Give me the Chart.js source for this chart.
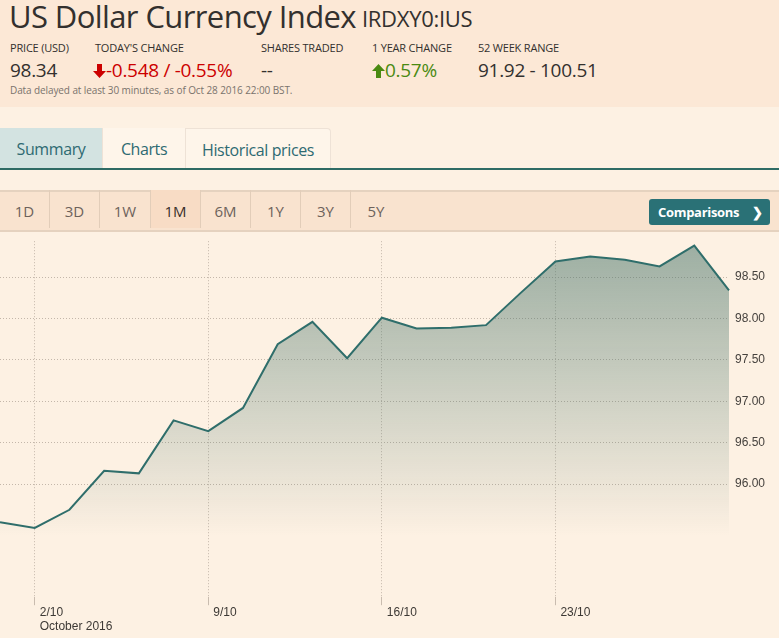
<!DOCTYPE html>
<html>
<head>
<meta charset="utf-8">
<script src="https://cdn.jsdelivr.net/npm/chart.js@4.4.0/dist/chart.umd.min.js"></script>
<style>
  body { margin: 0; width: 779px; height: 638px; overflow: hidden; background: #fdf1e3; color: #33302e; font-family: "Open Sans", sans-serif; position: relative; }
  .abs { position: absolute; white-space: nowrap; }
  #header { left: 0; top: 0; width: 779px; height: 107px; background: #fce8d6; }
  #title { left: 9px; top: -5px; font-size: 31px; letter-spacing: -0.6px; }
  #symbol { left: 362px; top: 3px; font-size: 22px; letter-spacing: -0.3px; }
  .lbl { top: 40px; font-size: 11px; letter-spacing: -0.2px; }
  .val { top: 57px; font-size: 19px; letter-spacing: -0.3px; }
  .down { color: #cc0000; }
  .up { color: #4a8a12; }
  #delay { left: 10px; top: 83px; font-size: 10px; color: #7a736d; letter-spacing: -0.1px; }
  .tab { top: 128px; height: 41px; line-height: 43px; font-size: 16px; color: #2e6a72; text-align: center; letter-spacing: -0.4px; }
  #tabline { left: 0; top: 168px; width: 779px; height: 2px; background: #2e6b64; }
  #range { left: 0; top: 190px; width: 779px; height: 38px; background: #f9e3cf; border-top: 2px solid #e5d2bf; border-bottom: 2px solid #e5d2bf; }
  .btn { top: 190px; height: 38px; width: 50px; line-height: 42px; text-align: center; font-size: 15px; color: #6d625b; border-right: 1px solid #e2cdb9; box-sizing: border-box; }
  #compare { left: 649px; top: 199px; width: 121px; height: 26px; line-height: 26px; background: #2a7176; color: #fff; font-weight: 700; font-size: 13px; border-radius: 3px; text-align: left; padding-left: 9px; box-sizing: border-box; letter-spacing: -0.3px; }
  #chartBox { left: 0; top: 228px; width: 779px; height: 406px; }
</style>
</head>
<body>
<div id="header" class="abs"></div>
<div id="title" class="abs">US Dollar Currency Index</div>
<div id="symbol" class="abs">IRDXY0:IUS</div>

<div class="abs lbl" style="left:10px">PRICE (USD)</div>
<div class="abs lbl" style="left:95px">TODAY'S CHANGE</div>
<div class="abs lbl" style="left:261px">SHARES TRADED</div>
<div class="abs lbl" style="left:372px">1 YEAR CHANGE</div>
<div class="abs lbl" style="left:478px">52 WEEK RANGE</div>

<div class="abs val" style="left:10px">98.34</div>
<div class="abs val down" style="left:93px"><svg width="13" height="14" viewBox="0 0 13 14" style="vertical-align:-1px"><path d="M4 0h5v7h4l-6.5 7L0 7h4z" fill="#cc0000"/></svg>-0.548 / -0.55%</div>
<div class="abs val" style="left:261px">--</div>
<div class="abs val up" style="left:372px"><svg width="13" height="14" viewBox="0 0 13 14" style="vertical-align:-1px"><path d="M4 14h5V7h4L6.5 0 0 7h4z" fill="#4a8a12"/></svg>0.57%</div>
<div class="abs val" style="left:478px">91.92 - 100.51</div>
<div id="delay" class="abs">Data delayed at least 30 minutes, as of Oct 28 2016 22:00 BST.</div>

<div class="abs tab" style="left:0;width:102px;background:#d3e3e1">Summary</div>
<div class="abs tab" style="left:102px;width:83px;background:#fef5ea;border-left:1px solid #eee2d6;box-sizing:border-box">Charts</div>
<div class="abs tab" style="left:185px;width:146px;background:#fef5ea;border:1px solid #eee2d6;border-bottom:none;border-top-right-radius:4px;box-sizing:border-box">Historical prices</div>
<div id="tabline" class="abs"></div>

<div id="range" class="abs"></div>
<div class="abs btn" style="left:0">1D</div>
<div class="abs btn" style="left:50px">3D</div>
<div class="abs btn" style="left:100px;width:51px">1W</div>
<div class="abs btn" style="left:151px;background:#f8dcc5;color:#3a302b">1M</div>
<div class="abs btn" style="left:201px">6M</div>
<div class="abs btn" style="left:251px">1Y</div>
<div class="abs btn" style="left:301px">3Y</div>
<div class="abs btn" style="left:351px;border-right:none">5Y</div>
<div id="compare" class="abs">Comparisons&nbsp;&nbsp;&nbsp;&nbsp;❯</div>

<div id="chartBox" class="abs"><canvas id="chart" width="779" height="406"></canvas></div>

<script>
// Daily closes, one per category
const dates = ['30/9', '2/10', '3/10', '4/10', '5/10', '6/10', '9/10', '10/10', '11/10', '12/10', '13/10',
  '16/10', '17/10', '18/10', '19/10', '20/10', '23/10', '24/10', '25/10', '26/10', '27/10', '28/10'];
const closes = [95.54, 95.47, 95.69, 96.16, 96.13, 96.77, 96.64, 96.92, 97.69, 97.96, 97.52,
  98.01, 97.88, 97.89, 97.92, 98.31, 98.69, 98.75, 98.71, 98.63, 98.88, 98.34];

// Axis labels
const weekTicks = ['2/10', '9/10', '16/10', '23/10'];
const monthLabel = 'October 2016';
const priceTicks = [96, 96.5, 97, 97.5, 98, 98.5];

const lineColor = '#2f6e6b';
const gridColor = '#c4b7aa';

// Fill fades from teal to nothing towards the bottom
function areaFill(context) {
  const chart = context.chart;
  const area = chart.chartArea;
  if (!area) return null;
  const g = chart.ctx.createLinearGradient(0, area.top, 0, area.top + 295);
  g.addColorStop(0, 'rgba(66,112,102,0.52)');
  g.addColorStop(1, 'rgba(66,112,102,0)');
  return g;
}

const chartCanvas = document.querySelector('#chart');
new Chart(chartCanvas, {
  type: 'line',
  data: {
    labels: dates,
    datasets: [{
      data: closes,
      borderColor: lineColor,
      borderWidth: 2,
      backgroundColor: areaFill,
      fill: 'start',
      pointRadius: 0,
      tension: 0
    }]
  },
  options: {
    responsive: false,
    animation: false,
    devicePixelRatio: 1,
    plugins: { legend: { display: false }, tooltip: { enabled: false } },
    layout: { padding: 0 },
    scales: {
      x: {
        type: 'category',
        offset: false,
        grid: { color: gridColor, tickColor: '#c9bcaf', tickLength: 8, tickBorderDash: [] },
        border: { display: false, dash: [1, 2] },
        ticks: {
          autoSkip: false,
          maxRotation: 0,
          align: 'start',
          labelOffset: 5,
          padding: 0,
          color: '#3d3935',
          font: { family: 'Liberation Sans', size: 12 },
          callback: (value, i) => {
            const d = dates[i];
            if (!weekTicks.includes(d)) return null;
            return d === weekTicks[0] ? [d, monthLabel] : d;
          }
        }
      },
      y: {
        position: 'right',
        min: 94.634,
        max: 98.934,
        afterBuildTicks: axis => { axis.ticks = priceTicks.map(v => ({ value: v })); },
        afterFit: axis => { axis.width = 50; },
        grid: { color: gridColor, drawTicks: false },
        border: { display: false, dash: [1, 2] },
        ticks: {
          padding: 6,
          color: '#46423e',
          font: { family: 'Liberation Sans', size: 12 },
          callback: v => v.toFixed(2)
        }
      }
    }
  }
});
</script>
</body>
</html>
